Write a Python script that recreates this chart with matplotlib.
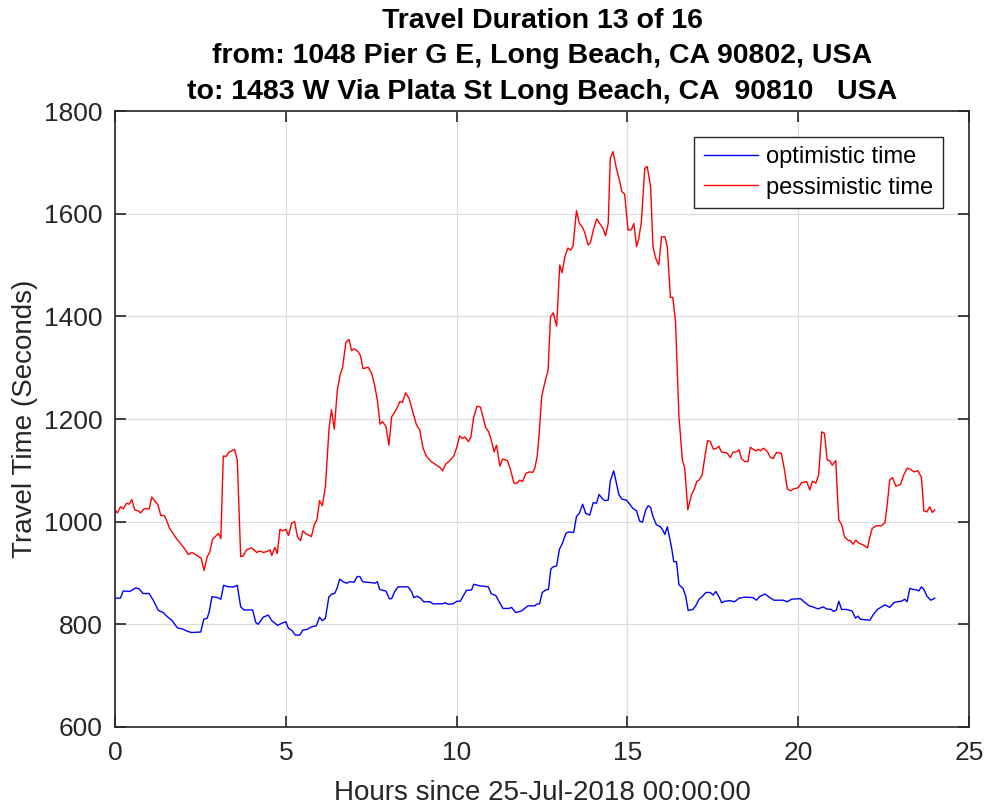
import matplotlib
matplotlib.use("Agg")
import matplotlib.pyplot as plt

# Optimistic travel time (seconds) vs hours since start
opt_hours = [0.00, 0.16, 0.24, 0.43, 0.61, 0.71, 0.82, 1.00, 1.12, 1.27, 1.41, 1.53, 1.66, 1.83,
             1.98, 2.10, 2.24, 2.51, 2.60, 2.70, 2.76, 2.84, 3.00, 3.10, 3.18, 3.32, 3.48, 3.58,
             3.68, 3.78, 4.03, 4.12, 4.19, 4.34, 4.49, 4.59, 4.76, 4.91, 5.00, 5.08, 5.18, 5.28,
             5.41, 5.50, 5.62, 5.75, 5.89, 5.99, 6.07, 6.16, 6.26, 6.34, 6.43, 6.50, 6.58, 6.68,
             6.78, 6.87, 7.00, 7.09, 7.17, 7.25, 7.36, 7.54, 7.61, 7.68, 7.75, 7.85, 7.93, 8.03,
             8.10, 8.19, 8.29, 8.58, 8.68, 8.75, 8.85, 8.94, 9.04, 9.22, 9.31, 9.59, 9.68, 9.75,
             9.90, 10.01, 10.11, 10.21, 10.29, 10.44, 10.50, 10.68, 10.93, 11.01, 11.15, 11.27,
             11.36, 11.54, 11.61, 11.73, 11.90, 12.09, 12.29, 12.34, 12.43, 12.51, 12.61, 12.69,
             12.76, 12.83, 12.93, 13.01, 13.10, 13.20, 13.28, 13.43, 13.51, 13.59, 13.69, 13.78,
             13.90, 14.00, 14.10, 14.17, 14.28, 14.34, 14.44, 14.50, 14.60, 14.68, 14.75, 14.84,
             14.97, 15.07, 15.16, 15.27, 15.36, 15.44, 15.54, 15.61, 15.68, 15.75, 15.85, 15.97,
             16.05, 16.10, 16.17, 16.29, 16.36, 16.44, 16.51, 16.63, 16.71, 16.78, 16.92, 17.00,
             17.10, 17.19, 17.30, 17.43, 17.51, 17.59, 17.68, 17.76, 17.85, 18.00, 18.14, 18.27,
             18.44, 18.68, 18.78, 18.87, 19.03, 19.15, 19.29, 19.56, 19.68, 19.81, 20.07, 20.17,
             20.32, 20.43, 20.58, 20.73, 20.83, 20.97, 21.04, 21.12, 21.19, 21.27, 21.41, 21.58,
             21.68, 21.75, 21.82, 22.10, 22.20, 22.32, 22.42, 22.54, 22.68, 22.80, 22.90, 23.03,
             23.12, 23.19, 23.27, 23.37, 23.47, 23.53, 23.61, 23.68, 23.77, 23.88, 23.95, 24.00]
opt_secs = [851, 851, 865, 864, 871, 869, 860, 860, 847, 827, 823, 815, 808, 793,
            791, 787, 784, 785, 810, 812, 825, 854, 852, 849, 876, 873, 873, 876,
            834, 828, 828, 804, 800, 814, 818, 807, 798, 803, 805, 792, 788, 779,
            779, 789, 790, 795, 797, 814, 807, 812, 853, 859, 860, 870, 888, 883,
            880, 883, 882, 893, 893, 883, 882, 881, 880, 883, 868, 866, 865, 850,
            850, 864, 873, 873, 864, 852, 855, 851, 844, 844, 840, 840, 842, 839,
            840, 845, 845, 857, 866, 867, 878, 875, 873, 860, 856, 841,
            831, 831, 833, 823, 826, 836, 836, 839, 840, 862, 867, 868,
            908, 912, 914, 946, 958, 977, 980, 979, 1010, 1016, 1034, 1016,
            1013, 1037, 1036, 1053, 1044, 1041, 1042, 1079, 1099, 1075, 1053, 1044,
            1042, 1034, 1026, 1021, 1001, 999, 1023, 1031, 1028, 1010, 994, 990,
            982, 975, 990, 951, 922, 922, 877, 870, 854, 827, 829, 836,
            849, 854, 862, 862, 857, 864, 854, 842, 845, 846, 844, 851,
            853, 852, 847, 854, 859, 853, 847, 847, 844, 849, 850, 844,
            836, 834, 830, 834, 830, 829, 825, 828, 845, 829, 829, 826,
            812, 816, 810, 808, 819, 829, 833, 838, 833, 842, 844, 845,
            849, 844, 870, 868, 867, 865, 873, 868, 855, 847, 849, 851]

# Pessimistic travel time (seconds) vs hours since start
pes_hours = [0.00, 0.07, 0.16, 0.24, 0.34, 0.42, 0.49, 0.58, 0.68, 0.75, 0.85, 1.00, 1.08, 1.17,
             1.26, 1.34, 1.44, 1.51, 1.59, 1.70, 1.80, 1.92, 2.03, 2.15, 2.25, 2.38, 2.52, 2.61,
             2.70, 2.77, 2.86, 2.97, 3.03, 3.10, 3.17, 3.25, 3.33, 3.42, 3.50, 3.58, 3.68, 3.75,
             3.85, 4.00, 4.15, 4.24, 4.34, 4.46, 4.54, 4.59, 4.68, 4.75, 4.83, 4.91, 5.00, 5.08,
             5.17, 5.26, 5.34, 5.43, 5.50, 5.60, 5.75, 5.84, 5.91, 5.99, 6.07, 6.16, 6.21, 6.27,
             6.34, 6.42, 6.51, 6.59, 6.66, 6.76, 6.85, 6.93, 7.00, 7.12, 7.19, 7.26, 7.41, 7.51,
             7.60, 7.68, 7.76, 7.83, 7.93, 8.02, 8.10, 8.24, 8.34, 8.41, 8.51, 8.61, 8.73, 8.83,
             8.92, 9.02, 9.12, 9.26, 9.41, 9.51, 9.59, 9.68, 9.80, 9.92, 10.01, 10.09, 10.17,
             10.25, 10.35, 10.42, 10.50, 10.60, 10.70, 10.77, 10.85, 10.94, 11.02, 11.10, 11.17,
             11.27, 11.35, 11.49, 11.58, 11.68, 11.77, 11.85, 11.93, 12.03, 12.13, 12.23, 12.29,
             12.36, 12.42, 12.49, 12.59, 12.68, 12.75, 12.83, 12.93, 13.02, 13.09, 13.17, 13.26,
             13.34, 13.41, 13.51, 13.59, 13.69, 13.76, 13.85, 13.92, 14.00, 14.10, 14.19, 14.29,
             14.36, 14.44, 14.50, 14.58, 14.68, 14.78, 14.84, 14.92, 15.02, 15.12, 15.19, 15.27,
             15.33, 15.41, 15.51, 15.58, 15.68, 15.75, 15.83, 15.92, 16.00, 16.10, 16.17, 16.26,
             16.33, 16.41, 16.51, 16.61, 16.68, 16.77, 16.88, 16.95, 17.03, 17.10, 17.19, 17.27,
             17.35, 17.43, 17.52, 17.61, 17.68, 17.75, 17.90, 17.94, 18.01, 18.09, 18.19, 18.27,
             18.34, 18.44, 18.53, 18.60, 18.68, 18.76, 18.83, 18.90, 18.98, 19.05, 19.12, 19.19,
             19.27, 19.37, 19.51, 19.61, 19.68, 19.78, 19.87, 20.00, 20.10, 20.25, 20.34, 20.42,
             20.52, 20.60, 20.69, 20.77, 20.85, 20.92, 21.00, 21.10, 21.19, 21.27, 21.36, 21.46,
             21.53, 21.61, 21.69, 21.78, 21.90, 22.03, 22.10, 22.17, 22.29, 22.44, 22.54, 22.60,
             22.68, 22.76, 22.86, 23.00, 23.09, 23.19, 23.29, 23.39, 23.51, 23.61, 23.68, 23.77,
             23.85, 23.93, 24.00]
pes_secs = [1023, 1017, 1029, 1025, 1036, 1034, 1043, 1023, 1021, 1017, 1025, 1025, 1048, 1040,
            1033, 1012, 1012, 1003, 988, 977, 967, 957, 948, 936, 940, 935, 929, 905,
            932, 940, 966, 973, 977, 967, 1128, 1127, 1135, 1138, 1141, 1120, 932, 933,
            945, 949, 940, 943, 940, 942, 945, 934, 950, 938, 985, 982, 985, 973,
            997, 1000, 971, 963, 982, 976, 971, 995, 1003, 1041, 1031, 1068, 1120, 1185,
            1218, 1180, 1257, 1286, 1299, 1349, 1355, 1333, 1337, 1331, 1323, 1298, 1301, 1290,
            1266, 1237, 1190, 1195, 1186, 1149, 1204, 1219, 1234, 1232, 1251, 1240, 1211, 1188,
            1179, 1143, 1127, 1117, 1110, 1106, 1099, 1112, 1119, 1128, 1146, 1167, 1162,
            1165, 1156, 1165, 1203, 1225, 1223, 1205, 1184, 1175, 1158, 1136, 1149,
            1108, 1122, 1119, 1101, 1075, 1075, 1081, 1078, 1094, 1097, 1096, 1104,
            1127, 1172, 1243, 1273, 1295, 1399, 1407, 1381, 1500, 1485, 1516, 1533,
            1529, 1537, 1606, 1582, 1573, 1562, 1539, 1544, 1567, 1590, 1581, 1571,
            1557, 1581, 1708, 1721, 1688, 1662, 1643, 1638, 1568, 1569, 1581, 1536,
            1550, 1584, 1688, 1692, 1653, 1536, 1513, 1500, 1555, 1555, 1535, 1437,
            1437, 1390, 1205, 1120, 1104, 1023, 1053, 1062, 1078, 1081, 1091, 1127,
            1158, 1156, 1141, 1143, 1147, 1136, 1134, 1132, 1125, 1135, 1136, 1140,
            1123, 1117, 1117, 1145, 1141, 1138, 1141, 1138, 1143, 1140, 1134, 1125,
            1123, 1135, 1133, 1097, 1064, 1060, 1064, 1066, 1076, 1078, 1062, 1079,
            1075, 1091, 1175, 1172, 1120, 1119, 1110, 1119, 1003, 995, 970, 964,
            963, 956, 964, 958, 955, 949, 970, 987, 992, 992, 998, 1029,
            1081, 1086, 1069, 1073, 1091, 1104, 1102, 1097, 1099, 1086, 1021, 1019,
            1029, 1018, 1023]

x_ticks = [0, 5, 10, 15, 20, 25]
y_ticks = [600, 800, 1000, 1200, 1400, 1600, 1800]

title_lines = ["Travel Duration 13 of 16",
               "from: 1048 Pier G E, Long Beach, CA 90802, USA",
               "to: 1483 W Via Plata St Long Beach, CA  90810   USA"]

plt.rcParams['font.family'] = ['Liberation Sans', 'DejaVu Sans']
axis_color = '#262626'

fig = plt.figure(figsize=(9.87, 8.11), dpi=100)
ax = fig.add_axes([0.1165, 0.1036, 0.8652, 0.7595])

ax.plot(opt_hours, opt_secs, color='#0000ff', linewidth=1.0, label='optimistic time')
ax.plot(pes_hours, pes_secs, color='#ff0000', linewidth=1.0, label='pessimistic time')

ax.set_xlim(0, 25)
ax.set_ylim(600, 1800)
ax.set_xticks(x_ticks)
ax.set_yticks(y_ticks)
ax.grid(True, color='#dcdcdc', linewidth=0.9)
ax.set_axisbelow(True)

ax.tick_params(axis='both', which='both', direction='in', length=8, width=1.2,
               top=True, right=True, colors=axis_color, labelsize=19)
ax.tick_params(axis='x', pad=10)
ax.tick_params(axis='y', pad=9)
for sp in ax.spines.values():
    sp.set_color(axis_color)
    sp.set_linewidth(1.2)

ax.set_xlabel('Hours since 25-Jul-2018 00:00:00', fontsize=20, color=axis_color, labelpad=11)
ax.set_ylabel('Travel Time (Seconds)', fontsize=20, color=axis_color, labelpad=4)
ax.set_title("\n".join(title_lines), fontsize=20.5, fontweight='bold', color='black',
             linespacing=1.46, pad=9)

leg = ax.legend(loc='upper right', bbox_to_anchor=(0.9696, 0.9578), borderaxespad=0,
                fontsize=17, frameon=True, fancybox=False, framealpha=1,
                handlelength=2.3, handletextpad=0.35, borderpad=0.4, labelspacing=0.35)
leg.get_frame().set_edgecolor(axis_color)
leg.get_frame().set_linewidth(1.0)

fig.savefig('out.png', dpi=100)
